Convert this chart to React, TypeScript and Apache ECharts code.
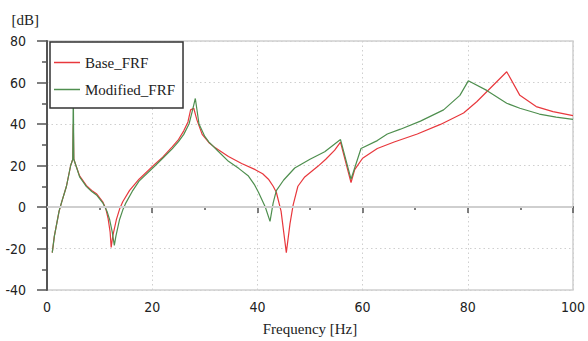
import React, { useEffect, useRef } from "react";
import * as echarts from "echarts";

const baseFreq = [1.0, 1.4, 2.3, 2.8, 3.7, 4.5, 4.9, 5.0, 5.1, 5.5, 6.2, 7.5, 8.5, 9.4, 10.6, 11.2, 11.6, 12.0, 12.2, 12.5, 13.2, 13.8, 14.4, 15.7, 17.5, 20.4, 22.0, 23.8, 25.0, 26.0, 26.8, 27.3, 27.9, 28.5, 29.5, 30.8, 32.0, 34.5, 37.0, 39.6, 41.0, 42.1, 43.0, 43.6, 44.5, 45.5, 46.2, 46.8, 47.7, 49.0, 51.5, 53.0, 54.7, 55.8, 57.8, 58.5, 60.0, 62.8, 66.0, 70.4, 74.8, 79.2, 81.7, 87.4, 89.9, 93.0, 96.2, 100.0];
const baseDb = [-22, -14, -2, 2.5, 10, 20, 23, 40, 23, 20, 15, 10.3, 8, 6.4, 2.5, -1, -5.3, -12, -19.5, -14, -6, -1, 2.5, 8, 13.4, 20.4, 24, 29, 32.5, 36.7, 41, 46.8, 47.6, 42, 35, 31, 28.5, 24.3, 21, 18, 16, 13.4, 10, 7.1, -2, -22, -8, 1, 10, 14.5, 19.6, 23, 27.4, 31.3, 11.8, 18, 23.5, 28.2, 31.3, 35.2, 39.8, 45.3, 50.7, 65.2, 53.8, 48.4, 46, 44];

const modFreq = [1.0, 1.4, 2.3, 2.8, 3.7, 4.5, 4.9, 5.0, 5.1, 5.5, 6.2, 7.5, 8.5, 9.4, 10.6, 11.4, 11.9, 12.4, 12.8, 13.1, 13.8, 14.4, 15.0, 16.2, 17.5, 20.4, 22.0, 23.8, 25.0, 26.0, 27.0, 27.6, 28.2, 28.9, 30.0, 30.8, 32.5, 34.5, 36.5, 38.3, 39.5, 40.2, 41.5, 42.4, 43.0, 43.6, 45.0, 47.1, 50.0, 52.8, 55.8, 57.8, 59.7, 62.8, 64.7, 67.2, 71.0, 75.4, 78.5, 80.1, 83.6, 87.4, 89.9, 93.6, 96.8, 100.0];
const modDb = [-22, -14, -2, 2.5, 10, 20, 23, 56, 23, 20, 14.5, 9.8, 7.5, 5.8, 2, -2, -6, -12, -18.5, -14, -6, -1.5, 2, 7.5, 12.5, 19.5, 23.5, 28, 31.5, 35, 40, 46, 52.3, 40, 34, 31.3, 27, 22, 18.5, 14.9, 10.5, 7.1, 0, -6.9, 2, 7.9, 13, 18.8, 23, 26.6, 32.5, 13.4, 28.2, 32, 35.2, 37.5, 41.4, 46.8, 53.8, 60.8, 56.2, 50, 47.6, 44.8, 43.3, 42.2];

const seriesNames = ["Base_FRF", "Modified_FRF"];
const xTitle = "Frequency [Hz]";
const yTitle = "[dB]";

const pairs = (xs: number[], ys: number[]) => xs.map((x, i) => [x, ys[i]]);

const labelFont = "'Liberation Sans Narrow', 'DejaVu Sans Condensed', 'Arial Narrow', sans-serif";
const serifFont = "'Liberation Serif', 'DejaVu Serif', serif";

export default function App() {
  const ref = useRef<HTMLDivElement>(null);
  useEffect(() => {
    document.body.style.margin = "0";
    const chart = echarts.init(ref.current!, null, { renderer: "svg" });
    chart.setOption({
      animation: false,
      backgroundColor: "#fff",
      grid: {
        left: 47,
        right: 11,
        top: 41,
        bottom: 43,
        show: true,
        borderColor: "#cfcfcf",
        borderWidth: 1.5,
      },
      legend: {
        data: seriesNames,
        orient: "vertical",
        left: 50,
        top: 42,
        icon: "rect",
        backgroundColor: "#fff",
        borderColor: "#333",
        borderWidth: 1.5,
        padding: [12, 8, 10, 4],
        itemWidth: 26,
        itemHeight: 1.5,
        itemGap: 10,
        textStyle: { fontFamily: serifFont, fontSize: 15, color: "#222", lineHeight: 17 },
      },
      xAxis: {
        type: "value",
        min: 0,
        max: 100,
        interval: 20,
        name: xTitle,
        nameLocation: "middle",
        nameGap: 31,
        nameTextStyle: { fontFamily: serifFont, fontSize: 15, color: "#222" },
        axisLine: { show: true, lineStyle: { color: "#555", width: 2 } },
        axisTick: { show: true, length: 6, lineStyle: { color: "#555", width: 1.5 } },
        minorTick: { show: true, splitNumber: 2, length: 3, lineStyle: { color: "#555", width: 1.5 } },
        axisLabel: { fontFamily: labelFont, fontSize: 14, color: "#222", margin: 10 },
        splitLine: { show: true, lineStyle: { color: "#cfcfcf", type: [1.5, 3] } },
      },
      yAxis: {
        type: "value",
        min: -40,
        max: 80,
        interval: 20,
        name: yTitle,
        nameLocation: "end",
        nameGap: 14,
        nameTextStyle: { fontFamily: serifFont, fontSize: 15, color: "#222", align: "right", padding: [0, 8, 0, 0] },
        axisLine: { show: true, lineStyle: { color: "#555", width: 2 } },
        axisTick: { show: true, length: 10, lineStyle: { color: "#555", width: 1.5 } },
        minorTick: { show: true, splitNumber: 2, length: 5, lineStyle: { color: "#555", width: 1.5 } },
        axisLabel: { fontFamily: labelFont, fontSize: 14, color: "#222", margin: 21 },
        splitLine: { show: true, lineStyle: { color: "#cfcfcf", type: [1.5, 3] } },
      },
      series: [
        {
          name: "zero",
          type: "line",
          data: [],
          silent: true,
          markLine: {
            silent: true,
            symbol: ["none", "none"],
            label: { show: false },
            lineStyle: { color: "#cfcfcf", type: "solid", width: 2 },
            data: [{ yAxis: 0 }],
          },
        },
        {
          name: seriesNames[0],
          type: "line",
          data: pairs(baseFreq, baseDb),
          symbol: "none",
          color: "#e8383d",
          lineStyle: { width: 1.2, color: "#e8383d" },
        },
        {
          name: seriesNames[1],
          type: "line",
          data: pairs(modFreq, modDb),
          symbol: "none",
          color: "#4f8f4f",
          lineStyle: { width: 1.2, color: "#4f8f4f" },
        },
      ],
    });
    return () => chart.dispose();
  }, []);
  return <div ref={ref} style={{ width: 588, height: 341 }} />;
}
